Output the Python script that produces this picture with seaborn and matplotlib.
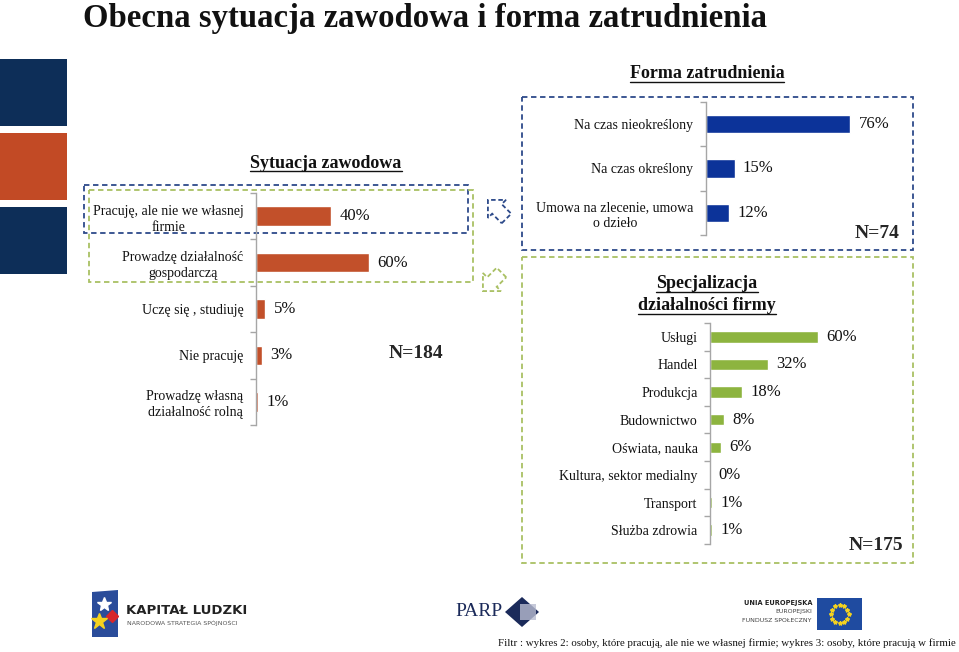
import numpy as np
import pandas as pd
import matplotlib
matplotlib.use("Agg")
import matplotlib.pyplot as plt
import seaborn as sns
from matplotlib.patches import Rectangle, Polygon

# ---------------- data ----------------
sit_labels = ["Pracuję, ale nie we własnej\nfirmie", "Prowadzę działalność\ngospodarczą",
              "Uczę się , studiuję", "Nie pracuję", "Prowadzę własną\ndziałalność rolną"]
sit_values = [40, 60, 5, 3, 1]

forma_labels = ["Na czas nieokreślony", "Na czas określony", "Umowa na zlecenie, umowa\no dzieło"]
forma_values = [76, 15, 12]

spec_labels = ["Usługi", "Handel", "Produkcja", "Budownictwo", "Oświata, nauka",
               "Kultura, sektor medialny", "Transport", "Służba zdrowia"]
spec_values = [60, 32, 18, 8, 6, 0, 1, 1]

title = "Obecna sytuacja zawodowa i forma zatrudnienia"
sub_sit = "Sytuacja zawodowa"
sub_forma = "Forma zatrudnienia"
sub_spec = "Specjalizacja\ndziałalności firmy"
n_sit, n_forma, n_spec = "N=184", "N=74", "N=175"
footnote = ("Filtr : wykres 2: osoby, które pracują, ale nie we własnej firmie; "
            "wykres 3: osoby, które pracują w firmie")

# ---------------- style ----------------
sns.set_theme(style="white")
plt.rcParams["font.family"] = ["Liberation Serif", "DejaVu Serif"]

W, H = 959, 652
fig = plt.figure(figsize=(W / 100, H / 100), dpi=100)
fig.patch.set_facecolor("white")

ORANGE = "#C2502A"
BLUE = "#0C3399"
GREEN = "#8DB43F"
NAVY = "#0D2E58"
BOX_BLUE = "#2D4A8A"
BOX_GREEN = "#A9C063"
SPINE = "#A6A6A6"


def rect(l, t, w, h):
    return [l / W, 1 - (t + h) / H, w / W, h / H]


# overlay for decorations (pixel coordinates)
ov = fig.add_axes([0, 0, 1, 1])
ov.set_xlim(0, W)
ov.set_ylim(H, 0)
ov.axis("off")
ov.patch.set_alpha(0)

# decorative squares on the left
for top, col in [(59, NAVY), (133, "#C24A25"), (207, NAVY)]:
    ov.add_patch(Rectangle((0, top), 67, 67, color=col, lw=0))

# title
ov.text(83, 27, title, fontsize=23.6, fontweight="bold", color="#111111",
        ha="left", va="baseline")

# dashed boxes
dash = (0, (3, 2))
ov.add_patch(Rectangle((84, 185), 384, 48, fill=False, ec=BOX_BLUE, lw=1.3, ls=dash))
ov.add_patch(Rectangle((89, 190), 384, 92, fill=False, ec=BOX_GREEN, lw=1.3, ls=dash))
ov.add_patch(Rectangle((522, 97), 391, 153, fill=False, ec=BOX_BLUE, lw=1.3, ls=dash))
ov.add_patch(Rectangle((522, 257), 391, 306, fill=False, ec=BOX_GREEN, lw=1.3, ls=dash))


def block_arrow(cx, cy, size, theta_deg, color):
    pts = np.array([(-0.45, -0.8), (0.45, -0.8), (0.45, 0.1), (0.85, 0.1),
                    (0.0, 0.95), (-0.85, 0.1), (-0.45, 0.1)])
    th = np.deg2rad(theta_deg)
    xs = cx + size * (pts[:, 0] * np.cos(th) - pts[:, 1] * np.sin(th))
    ys = cy - size * (pts[:, 0] * np.sin(th) + pts[:, 1] * np.cos(th))
    ov.add_patch(Polygon(np.column_stack([xs, ys]), closed=True, fill=False,
                         ec=color, lw=1.3, ls=(0, (2.5, 1.5))))


block_arrow(498, 210, 15, 45, BOX_BLUE)
block_arrow(493, 281, 15, 135, BOX_GREEN)

# subtitles (underlined)
subs = []
subs.append(ov.text(326, 163, sub_sit, fontsize=13, fontweight="bold", ha="center",
                    va="center", color="#111111"))
subs.append(ov.text(707, 74, sub_forma, fontsize=13, fontweight="bold", ha="center",
                    va="center", color="#111111"))
spec_lines = sub_spec.split("\n")
subs.append(ov.text(707, 284, spec_lines[0], fontsize=13, fontweight="bold", ha="center",
                    va="center", color="#111111"))
subs.append(ov.text(707, 306, spec_lines[1], fontsize=13, fontweight="bold", ha="center",
                    va="center", color="#111111"))

# N labels
ov.text(416, 354, n_sit, fontsize=14, fontweight="bold", ha="center", va="center")
ov.text(877, 233, n_forma, fontsize=14, fontweight="bold", ha="center", va="center")
ov.text(876, 546, n_spec, fontsize=14, fontweight="bold", ha="center", va="center")


# ---------------- bar charts ----------------
def bar_chart(box, labels, values, color, xmax, bar_w):
    ax = fig.add_axes(rect(*box))
    ax.patch.set_alpha(0)
    df = pd.DataFrame({"label": labels, "value": values})
    sns.barplot(data=df, x="value", y="label", orient="h", color=color,
                width=bar_w, saturation=1, ax=ax)
    n = len(labels)
    ax.set_xlim(0, xmax)
    ax.set_ylim(n - 0.5, -0.5)
    ax.set_xlabel("")
    ax.set_ylabel("")
    ax.set_xticks([])
    for s in ["top", "right", "bottom"]:
        ax.spines[s].set_visible(False)
    ax.spines["left"].set_color(SPINE)
    ax.spines["left"].set_linewidth(1.0)
    ax.set_yticks(np.arange(-0.5, n, 1.0), minor=True)
    ax.tick_params(axis="y", which="minor", length=4, width=1, color=SPINE,
                   direction="out", left=True)
    ax.tick_params(axis="y", which="major", length=0, pad=9, labelsize=10,
                   labelcolor="#111111")
    for t in ax.get_yticklabels():
        t.set_multialignment("center")
        t.set_linespacing(1.3)
        t.set_fontfamily(["Liberation Serif", "DejaVu Serif"])
    ax.bar_label(ax.containers[0], labels=[f"{v}%" for v in values], padding=6,
                 fontsize=12, color="#111111", family=["Liberation Serif"])
    return ax


bar_chart((256, 193, 187.5, 232), sit_labels, sit_values, ORANGE, 100, 0.42)
bar_chart((706, 102, 190, 133), forma_labels, forma_values, BLUE, 100, 0.42)
bar_chart((710, 323, 180, 221), spec_labels, spec_values, GREEN, 100, 0.42)

# ---------------- footer logos (approximations) ----------------
# Kapitał Ludzki
ov.add_patch(Polygon([(92, 592), (118, 590), (118, 637), (92, 637)], closed=True,
                     color="#2A4C9A", lw=0))
ov.plot([104], [604], marker="*", ms=10, color="white", mec="white")
ov.plot([112], [616], marker="D", ms=6, color="#D7262B", mec="#D7262B")
ov.plot([99], [621], marker="*", ms=12, color="#F4D21E", mec="#F4D21E")
ov.text(126, 611, "KAPITAŁ LUDZKI", fontsize=9.5, fontweight="bold", color="#222222",
        family=["DejaVu Sans"], ha="left", va="center")
ov.text(127, 623, "NARODOWA STRATEGIA SPÓJNOŚCI", fontsize=4.5, color="#555555",
        family=["DejaVu Sans"], ha="left", va="center")

# PARP
ov.text(455, 611, "PARP", fontsize=14, color="#1B2A5A", ha="left", va="center")
ov.add_patch(Polygon([(505, 612), (522, 597), (539, 612), (522, 627)], closed=True,
                     color="#1B2A5A", lw=0))
ov.add_patch(Rectangle((520, 604), 16, 16, color="#B8BCD0", lw=0, alpha=0.8))

# EU
ov.text(812, 603, "UNIA EUROPEJSKA", fontsize=4.8, fontweight="bold", color="#222222",
        family=["DejaVu Sans"], ha="right", va="center")
ov.text(812, 612, "EUROPEJSKI", fontsize=4.5, color="#444444",
        family=["DejaVu Sans"], ha="right", va="center")
ov.text(812, 620, "FUNDUSZ SPOŁECZNY", fontsize=4.5, color="#444444",
        family=["DejaVu Sans"], ha="right", va="center")
ov.add_patch(Rectangle((817, 598), 45, 32, color="#1F4BA0", lw=0))
for a in np.linspace(0, 2 * np.pi, 12, endpoint=False):
    ov.plot(839.5 + 9 * np.cos(a), 614 + 9 * np.sin(a), marker="*", ms=3,
            color="#F4D21E", mec="#F4D21E")

# footnote
ov.text(498, 643, footnote, fontsize=7.85, color="#111111", ha="left", va="center")

# underline subtitles
fig.canvas.draw()
renderer = fig.canvas.get_renderer()
inv = ov.transData.inverted()
for t in subs:
    bb = t.get_window_extent(renderer)
    (x0, y0), (x1, y1) = inv.transform([(bb.x0, bb.y0), (bb.x1, bb.y1)])
    ov.plot([x0, x1], [y0 - 1, y0 - 1], color="#111111", lw=1.0)

fig.savefig("out.png", dpi=100)
